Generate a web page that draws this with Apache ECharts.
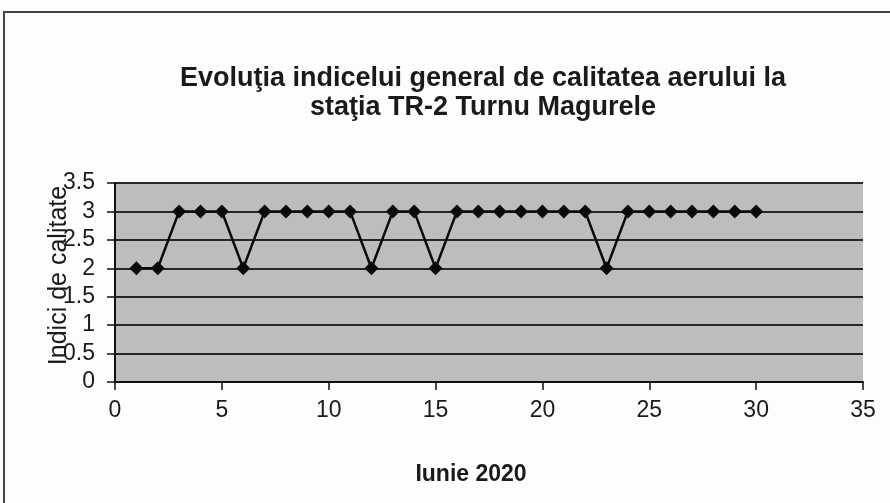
<!DOCTYPE html>
<html><head><meta charset="utf-8">
<script src="https://cdn.jsdelivr.net/npm/echarts@6/dist/echarts.min.js"></script>
<style>html,body{margin:0;padding:0;background:#fff}#c{width:890px;height:503px}</style>
</head><body><div id="c"></div>
<script>
const days = [1,2,3,4,5,6,7,8,9,10,11,12,13,14,15,16,17,18,19,20,21,22,23,24,25,26,27,28,29,30];
const indici = [2,2,3,3,3,2,3,3,3,3,3,2,3,3,2,3,3,3,3,3,3,3,2,3,3,3,3,3,3,3];
const titleText = 'Evoluţia indicelui general de calitatea aerului la\nstaţia TR-2 Turnu Magurele';
const xName = 'Iunie 2020';
const yName = 'Indici de calitate';

const chart = echarts.init(document.getElementById('c'));
const font = 'Liberation Sans, Arial, sans-serif';
chart.setOption({
  backgroundColor: '#fdfdfd',
  animation: false,
  graphic: [{type:'rect', shape:{x:4,y:12,width:900,height:500}, style:{fill:null, stroke:'#444', lineWidth:2}, z:-1}],
  title: {text: titleText, left: 478, top: 59, textAlign: 'center',
    textStyle:{fontFamily:font, fontSize:27, fontWeight:'bold', color:'#1a1a1a', lineHeight:29}},
  grid: {left:115, right:27, top:183, bottom:121, show:true, backgroundColor:'#bdbdbd', borderWidth:0},
  xAxis: {type:'value', min:0, max:35, interval:5,
    name: xName, nameLocation:'middle', nameGap:81, nameMoveOverlap:false,
    nameTextStyle:{fontFamily:font, fontSize:23, fontWeight:'bold', color:'#1a1a1a', padding:[0,36,0,0]},
    axisLine:{show:true, lineStyle:{color:'#111', width:2}},
    axisTick:{show:true, length:8, lineStyle:{color:'#111', width:1.5}},
    axisLabel:{fontFamily:font, fontSize:23, color:'#1a1a1a', margin:17},
    splitLine:{show:false}},
  yAxis: {type:'value', min:0, max:3.5, interval:0.5,
    name: yName, nameLocation:'middle', nameGap:43, nameMoveOverlap:false,
    nameTextStyle:{fontFamily:font, fontSize:25, color:'#1a1a1a', padding:[0,0,0,14]},
    axisLine:{show:true, lineStyle:{color:'#111', width:2}},
    axisTick:{show:true, length:8, lineStyle:{color:'#111', width:1.5}},
    axisLabel:{fontFamily:font, fontSize:23, color:'#1a1a1a', margin:20},
    splitLine:{show:true, lineStyle:{color:'#2a2520', width:2}}},
  series: [{type:'line', data: days.map((d,i)=>[d, indici[i]]),
    symbol:'diamond', symbolSize:14, itemStyle:{color:'#0a0a0a'},
    lineStyle:{color:'#0a0a0a', width:2.5}}]
});
</script></body></html>
